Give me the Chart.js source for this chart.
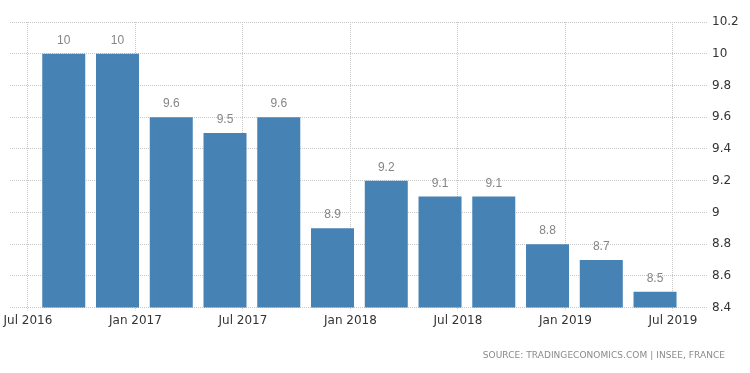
<!DOCTYPE html>
<html>
<head>
<meta charset="utf-8">
<script src="https://cdn.jsdelivr.net/npm/chart.js@4"></script>
<style>
  html, body { margin: 0; padding: 0; background: #fff; }
  #wrap { position: relative; width: 750px; height: 373px; }
  #source {
    position: absolute; right: 25px; top: 350px;
    font-family: "DejaVu Sans", sans-serif; font-size: 9px; color: #8a8a8a;
    letter-spacing: 0.05px; white-space: nowrap;
  }
</style>
</head>
<body>
<div id="wrap">
  <canvas id="c" width="750" height="373"></canvas>
  <div id="source">SOURCE: TRADINGECONOMICS.COM | INSEE, FRANCE</div>
</div>
<script>
// Quarterly values (bars placed at the last month of each quarter)
const periods = ['2016-09','2016-12','2017-03','2017-06','2017-09','2017-12',
                 '2018-03','2018-06','2018-09','2018-12','2019-03','2019-06'];
const values  = [10, 10, 9.6, 9.5, 9.6, 8.9, 9.2, 9.1, 9.1, 8.8, 8.7, 8.5];
const tickPeriods = ['2016-07','2017-01','2017-07','2018-01','2018-07','2019-01','2019-07'];
const tickLabels  = ['Jul 2016','Jan 2017','Jul 2017','Jan 2018','Jul 2018','Jan 2019','Jul 2019'];
const yTicks = [8.4, 8.6, 8.8, 9, 9.2, 9.4, 9.6, 9.8, 10, 10.2];

function monthIndex(p) {
  const [y, m] = p.split('-').map(Number);
  return (y - 2016) * 12 + (m - 1);
}
const points = periods.map((p, i) => ({ x: monthIndex(p), y: values[i] }));
const tickVals = tickPeriods.map(monthIndex);

const valueLabels = {
  id: 'valueLabels',
  afterDatasetsDraw(chart) {
    const ctx = chart.ctx;
    const meta = chart.getDatasetMeta(0);
    ctx.save();
    ctx.font = '12px "Liberation Sans", Arial, sans-serif';
    ctx.fillStyle = '#858585';
    ctx.textAlign = 'center';
    ctx.textBaseline = 'alphabetic';
    meta.data.forEach((bar, i) => {
      ctx.fillText(String(values[i]), bar.x, bar.y - 10);
    });
    ctx.restore();
  }
};

new Chart(document.getElementById('c'), {
  type: 'bar',
  data: {
    datasets: [{
      data: points,
      backgroundColor: '#4682b4',
      borderWidth: 0,
      barPercentage: 1.0,
      categoryPercentage: 0.8
    }]
  },
  options: {
    responsive: false,
    animation: false,
    layout: { padding: { left: 10, right: 0, top: 22, bottom: 42 } },
    plugins: { legend: { display: false }, tooltip: { enabled: false } },
    scales: {
      x: {
        type: 'linear',
        offset: false,
        min: 5,
        max: 43.9,
        afterBuildTicks(scale) { scale.ticks = tickVals.map(v => ({ value: v })); },
        ticks: {
          callback(v) { const i = tickVals.indexOf(v); return i >= 0 ? tickLabels[i] : ''; },
          font: { family: '"DejaVu Sans", sans-serif', size: 12 },
          color: '#333',
          padding: 3,
          maxRotation: 0,
          autoSkip: false
        },
        grid: {
          offset: false,
          color: '#c8c8c8', tickBorderDash: [1, 1],
          drawTicks: true, tickLength: 3, drawOnChartArea: true
        },
        border: { display: false, dash: [1, 1] }
      },
      y: {
        position: 'right',
        min: 8.4,
        max: 10.2,
        afterBuildTicks(scale) { scale.ticks = yTicks.map(v => ({ value: v })); },
        afterFit(scale) { scale.width = 43; },
        ticks: {
          callback(v) { return String(+Number(v).toFixed(1)); },
          font: { family: '"DejaVu Sans", sans-serif', size: 12 },
          color: '#333',
          padding: 5
        },
        grid: { color: '#c8c8c8', drawTicks: false },
        border: { display: false, dash: [1, 1] }
      }
    }
  },
  plugins: [valueLabels]
});
</script>
</body>
</html>
